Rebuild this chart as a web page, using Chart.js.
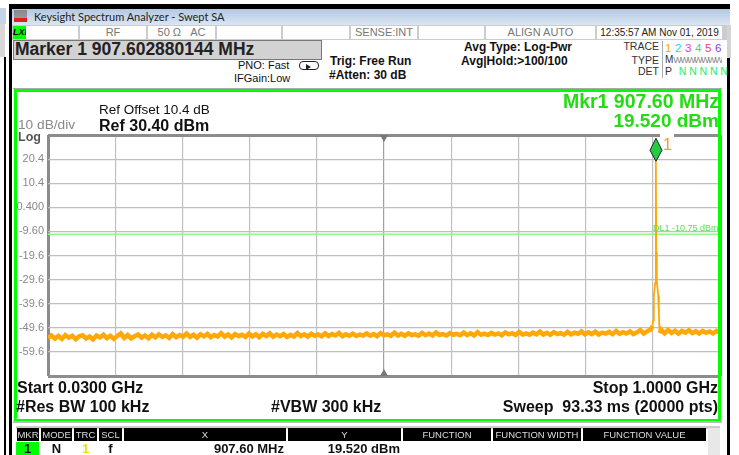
<!DOCTYPE html>
<html>
<head>
<meta charset="utf-8">
<title>Swept SA</title>
<script src="https://cdn.jsdelivr.net/npm/chart.js@4/dist/chart.umd.min.js"></script>
<style>
html, body { margin: 0; padding: 0; background: #fff; overflow: hidden; }
#wrap { position: relative; width: 739px; height: 455px; font-family: "Liberation Sans", Arial, sans-serif; color: #111; }
#wrap canvas { position: absolute; left: 0; top: 0; }
.t { position: absolute; white-space: nowrap; line-height: 1; }
.r { position: absolute; }
.b { font-weight: bold; }
.c { position: absolute; background: #fff; border-right: 2px solid #ccc; height: 13px; top: 26px; color: #777; font-size: 11px; line-height: 13px; text-align: center; }
.h { position: absolute; top: 428px; height: 13px; background: #000; color: #ddd; font-size: 9.5px; line-height: 13px; text-align: center; white-space: nowrap; overflow: hidden; }
.d { position: absolute; top: 442px; height: 13px; font-size: 13px; line-height: 14px; font-weight: bold; text-align: center; }
</style>
</head>
<body>
<div id="wrap">
  <!-- window edges -->
  <div class="r" style="left:0;top:8px;width:6px;height:16px;background:#c4d5e8"></div>
  <div class="r" style="left:0;top:24px;width:5px;height:33px;background:#d8d8d8"></div>
  <div class="r" style="left:4px;top:57px;width:2px;height:398px;background:#000"></div>
  <div class="r" style="left:9px;top:4px;width:3px;height:451px;background:#000"></div>
  <div class="r" style="left:9px;top:4px;width:721px;height:5px;background:#000"></div>
  <div class="r" style="left:12px;top:9px;width:718px;height:16px;background:linear-gradient(#b3c8e2,#dbe6f3)"></div>
  <div class="r" style="left:727px;top:25px;width:4px;height:33px;background:#d4d4d4"></div>
  <div class="r" style="left:727px;top:58px;width:3px;height:397px;background:#000"></div>
  <!-- title bar -->
  <div class="r" style="left:14px;top:10px;width:13px;height:12px;background:linear-gradient(#888 0,#999 66%,#d22 67%,#d22 100%)"></div>
  <div class="t" style="left:34px;top:11px;font-family:'Lato';font-size:11px;color:#222">Keysight Spectrum Analyzer - Swept SA</div>
  <!-- status row -->
  <div class="r" style="left:12px;top:25px;width:715px;height:15px;background:#ccc"></div>
  <div class="c" style="left:13px;width:13px;background:#0f0;color:#000;font-weight:bold;font-size:9px;font-style:italic">LXI</div>
  <div class="c" style="left:26px;width:52px"></div>
  <div class="c" style="left:80px;width:66px">RF</div>
  <div class="c" style="left:148px;width:67px">50 Ω&nbsp;&nbsp;&nbsp;AC</div>
  <div class="c" style="left:217px;width:64px"></div>
  <div class="c" style="left:283px;width:66px"></div>
  <div class="c" style="left:351px;width:66px">SENSE:INT</div>
  <div class="c" style="left:419px;width:65px"></div>
  <div class="c" style="left:486px;width:109px">ALIGN AUTO</div>
  <div class="c" style="left:597px;width:125px;color:#222;font-size:10px;border:0">12:35:57 AM Nov 01, 2019</div>
  <!-- marker box -->
  <div class="r" style="left:13px;top:40px;width:307px;height:18px;background:#d2d2d2;border:1px solid #777"></div>
  <div class="t b" style="left:15px;top:41px;font-size:17.5px;color:#222">Marker 1 907.602880144 MHz</div>
  <!-- settings -->
  <div class="t" style="left:238px;top:60px;font-size:11px">PNO: Fast</div>
  <div class="t" style="left:234px;top:73px;font-size:11px">IFGain:Low</div>
  <div class="r" style="left:299px;top:61px;width:18px;height:7px;border:1px solid #222;border-radius:4px;background:#fff"></div>
  <div class="r" style="left:306px;top:64px;width:0;height:0;border-left:5px solid #222;border-top:3px solid transparent;border-bottom:3px solid transparent"></div>
  <div class="t b" style="left:330px;top:55px;font-size:12px">Trig: Free Run</div>
  <div class="t b" style="left:329px;top:69px;font-size:12px">#Atten: 30 dB</div>
  <div class="t b" style="left:464px;top:41px;font-size:12px">Avg Type: Log-Pwr</div>
  <div class="t b" style="left:461px;top:55px;font-size:12px">Avg|Hold:&gt;100/100</div>
  <!-- trace panel -->
  <div class="t" style="right:80px;top:41px;font-size:10.5px;color:#333">TRACE</div>
  <div class="t" style="right:80px;top:55px;font-size:10.5px;color:#333">TYPE</div>
  <div class="t" style="right:80px;top:66px;font-size:10.5px;color:#333">DET</div>
  <div class="r" style="left:662px;top:41px;width:1px;height:37px;background:#aaa"></div>
  <div class="t" style="left:665px;top:43px;font-size:11.5px;letter-spacing:3.6px"><span style="color:#ffa500">1</span><span style="color:#2ad4ee">2</span><span style="color:#f032e6">3</span><span style="color:#33e07a">4</span><span style="color:#f04078">5</span><span style="color:#7a3ff0">6</span></div>
  <div class="t" style="left:665px;top:55px;width:57px;overflow:hidden;font-size:10px;color:#333">M<span style="color:#888;letter-spacing:-1.6px;font-size:9px">WWWWWWWWWW</span></div>
  <div class="t" style="left:665px;top:66px;font-size:10.5px;letter-spacing:2.8px;color:#22ee66"><span style="color:#333;margin-right:4px">P</span>NNNNN</div>

  <canvas id="saChart" width="739" height="455"></canvas>

  <!-- green frame, sits over the right edge of the plot -->
  <div class="r" style="left:13px;top:88px;width:709px;height:1px;background:#aaa"></div>
  <div class="r" style="left:14px;top:89px;width:701px;height:327px;border:3px solid #0f0"></div>
  <div class="r" style="left:13px;top:421px;width:709px;height:2px;background:#bbb"></div>

  <div class="r" style="left:660px;top:133px;width:14px;height:7px;background:#fff"></div>
  <div class="t" style="left:663px;top:137px;font-size:16px;color:#ff9a1a">1</div>
  <div class="t" style="left:18px;top:118px;font-size:13.7px;color:#888">10 dB/div</div>
  <div class="t b" style="left:18px;top:131px;font-size:12.5px;color:#555">Log</div>
  <div class="t" style="left:99px;top:103px;font-size:13.5px">Ref Offset 10.4 dB</div>
  <div class="t b" style="left:99px;top:118px;font-size:16px">Ref 30.40 dBm</div>
  <div class="t b" style="right:20px;top:92px;font-size:19.5px;color:#22dd11">Mkr1 907.60 MHz</div>
  <div class="t b" style="right:20px;top:111px;font-size:19px;color:#22dd11">19.520 dBm</div>
  <div class="t" style="left:653px;top:224px;font-size:9px;color:#55e055">DL1 -10.75 dBm</div>
  <div class="t b" style="left:17px;top:380px;font-size:16px">Start 0.0300 GHz</div>
  <div class="t b" style="left:16px;top:399px;font-size:16px">#Res BW 100 kHz</div>
  <div class="t b" style="left:271px;top:399px;font-size:16px">#VBW 300 kHz</div>
  <div class="t b" style="right:21px;top:380px;font-size:16px">Stop 1.0000 GHz</div>
  <div class="t b" style="right:21px;top:399px;font-size:16px">Sweep&nbsp;&nbsp;93.33 ms (20000 pts)</div>

  <!-- marker table -->
  <div class="r" style="left:16px;top:426px;width:704px;height:3px;background:#ccc"></div>
  <div class="h" style="left:17px;width:22px">MKR</div>
  <div class="h" style="left:41px;width:31px">MODE</div>
  <div class="h" style="left:74px;width:23px">TRC</div>
  <div class="h" style="left:99px;width:23px">SCL</div>
  <div class="h" style="left:124px;width:162px">X</div>
  <div class="h" style="left:288px;width:113px">Y</div>
  <div class="h" style="left:403px;width:88px">FUNCTION</div>
  <div class="h" style="left:493px;width:88px">FUNCTION WIDTH</div>
  <div class="h" style="left:583px;width:123px">FUNCTION VALUE</div>
  <div class="r" style="left:708px;top:428px;width:12px;height:27px;background:#e8e8e8"></div>
  <div class="d" style="left:16px;width:23px;background:#0f0">1</div>
  <div class="d" style="left:41px;width:31px">N</div>
  <div class="d" style="left:74px;width:23px;color:#f0e000">1</div>
  <div class="d" style="left:99px;width:23px">f</div>
  <div class="d" style="left:124px;width:160px;text-align:right">907.60 MHz</div>
  <div class="d" style="left:288px;width:112px;text-align:right">19.520 dBm</div>
</div>

<script>
// frequency in GHz, level in dBm
const traceFreq = [
  0.030, 0.035, 0.040, 0.045, 0.050, 0.055, 0.060, 0.065, 0.070, 0.075,
  0.080, 0.085, 0.090, 0.095, 0.100, 0.105, 0.110, 0.115, 0.120, 0.125,
  0.130, 0.135, 0.140, 0.145, 0.150, 0.155, 0.160, 0.165, 0.170, 0.175,
  0.180, 0.185, 0.190, 0.195, 0.200, 0.205, 0.210, 0.215, 0.220, 0.225,
  0.230, 0.235, 0.240, 0.245, 0.250, 0.255, 0.260, 0.265, 0.270, 0.275,
  0.280, 0.285, 0.290, 0.295, 0.300, 0.305, 0.310, 0.315, 0.320, 0.325,
  0.330, 0.335, 0.340, 0.345, 0.350, 0.355, 0.360, 0.365, 0.370, 0.375,
  0.380, 0.385, 0.390, 0.395, 0.400, 0.405, 0.410, 0.415, 0.420, 0.425,
  0.430, 0.435, 0.440, 0.445, 0.450, 0.455, 0.460, 0.465, 0.470, 0.475,
  0.480, 0.485, 0.490, 0.495, 0.500, 0.505, 0.510, 0.515, 0.520, 0.525,
  0.530, 0.535, 0.540, 0.545, 0.550, 0.555, 0.560, 0.565, 0.570, 0.575,
  0.580, 0.585, 0.590, 0.595, 0.600, 0.605, 0.610, 0.615, 0.620, 0.625,
  0.630, 0.635, 0.640, 0.645, 0.650, 0.655, 0.660, 0.665, 0.670, 0.675,
  0.680, 0.685, 0.690, 0.695, 0.700, 0.705, 0.710, 0.715, 0.720, 0.725,
  0.730, 0.735, 0.740, 0.745, 0.750, 0.755, 0.760, 0.765, 0.770, 0.775,
  0.780, 0.785, 0.790, 0.795, 0.800, 0.805, 0.810, 0.815, 0.820, 0.825,
  0.830, 0.835, 0.840, 0.845, 0.850, 0.855, 0.860, 0.865, 0.870, 0.875,
  0.880, 0.885, 0.890, 0.895, 0.900, 0.9025, 0.9035, 0.9045, 0.9055, 0.9065,
  0.9072, 0.9076, 0.9080, 0.9088, 0.9098, 0.9108, 0.9118, 0.9125, 0.9132, 0.915,
  0.920, 0.925, 0.930, 0.935, 0.940, 0.945, 0.950, 0.955, 0.960, 0.965,
  0.970, 0.975, 0.980, 0.985, 0.990, 0.995, 1.000
];
const traceLevel = [
  -53.9, -52.8, -54.1, -53.0, -54.2, -52.6, -53.7, -52.9, -54.3, -53.1,
  -52.7, -54.0, -53.2, -54.4, -52.8, -53.6, -52.5, -53.9, -52.9, -54.2,
  -53.0, -51.9, -53.8, -52.6, -54.0, -53.1, -52.4, -53.7, -52.8, -53.9,
  -52.5, -53.6, -52.3, -53.4, -52.7, -53.8, -52.2, -53.5, -52.6, -53.3,
  -52.0, -53.4, -52.5, -53.7, -52.3, -53.1, -52.1, -53.5, -52.6, -53.2,
  -51.8, -53.3, -52.4, -53.6, -52.2, -53.0, -52.5, -53.4, -52.0, -53.2,
  -52.3, -53.5, -52.1, -53.0, -51.9, -53.3, -52.4, -53.1, -52.2, -53.4,
  -52.5, -53.2, -51.8, -53.0, -52.3, -53.3, -52.1, -52.9, -52.4, -53.1,
  -51.9, -53.0, -52.2, -52.8, -51.7, -53.1, -52.3, -52.9, -52.0, -53.0,
  -52.4, -52.8, -51.9, -52.9, -52.2, -53.1, -51.8, -52.7, -52.3, -52.9,
  -51.6, -52.8, -52.1, -52.9, -51.9, -52.6, -52.3, -52.9, -51.7, -52.7,
  -52.0, -52.8, -51.5, -52.6, -52.2, -52.8, -51.8, -52.5, -52.1, -52.7,
  -51.6, -52.6, -51.9, -52.8, -51.4, -52.5, -52.0, -52.6, -51.7, -52.4,
  -51.9, -52.7, -51.5, -52.3, -51.8, -52.6, -51.3, -52.4, -51.9, -52.5,
  -51.6, -52.3, -51.2, -52.4, -51.7, -52.5, -51.4, -52.2, -51.8, -52.4,
  -51.3, -52.3, -51.6, -52.1, -51.1, -52.3, -51.5, -52.2, -51.2, -52.4,
  -51.6, -52.0, -51.3, -52.2, -50.9, -52.1, -51.4, -52.0, -51.1, -52.2,
  -51.5, -50.6, -52.0, -51.0, -50.3, -48.8, -46.5, -36.5, -33.4, -31.0,
  -20.0, 19.52, -18.0, -30.2, -33.0, -36.2, -44.0, -49.8, -51.8, -50.4,
  -51.9, -50.5, -51.7, -50.8, -52.0, -50.9, -51.6, -50.6, -51.8, -51.0,
  -52.0, -50.9, -51.7, -51.1, -51.9, -50.9, -51.8
];
const displayLineFreq = [0.03, 1.0];
const displayLineLevel = [-10.75, -10.75];
const freqTicks = [0.03, 0.127, 0.224, 0.321, 0.418, 0.515, 0.612, 0.709, 0.806, 0.903, 1.0];
const levelTicks = [30.4, 20.4, 10.4, 0.4, -9.6, -19.6, -29.6, -39.6, -49.6, -59.6, -69.6];
const levelLabels = ['', '20.4', '10.4', '0.400', '-9.60', '-19.6', '-29.6', '-39.6', '-49.6', '-59.6', ''];
const markerFreq = 0.9076;
const markerLevel = 19.52;
const centerFreq = 0.515;
const peakStart = 0.9025;
const peakEnd = 0.9132;

// marker diamond and the two center frequency arrows
const saMarks = {
  id: 'saMarks',
  afterDatasetsDraw(chart) {
    const g = chart.ctx;
    const x = chart.scales.x;
    const y = chart.scales.y;
    const mx = x.getPixelForValue(markerFreq);
    const my = y.getPixelForValue(markerLevel);
    g.save();
    g.fillStyle = '#22cc44';
    g.strokeStyle = '#222';
    g.lineWidth = 1;
    g.beginPath();
    g.moveTo(mx, my);
    g.lineTo(mx - 6, my - 11);
    g.lineTo(mx, my - 23);
    g.lineTo(mx + 6, my - 11);
    g.closePath();
    g.fill();
    g.stroke();
    const cx = x.getPixelForValue(centerFreq);
    g.fillStyle = '#777';
    [[y.top, 1], [y.bottom, -1]].forEach(([py, dir]) => {
      g.beginPath();
      g.moveTo(cx - 4, py);
      g.lineTo(cx + 4, py);
      g.lineTo(cx, py + dir * 7);
      g.closePath();
      g.fill();
    });
    g.restore();
  }
};

const saChart = new Chart(document.getElementById('saChart'), {
  type: 'scatter',
  data: {
    datasets: [{
      data: traceFreq.map((f, i) => ({ x: f, y: traceLevel[i] })),
      showLine: true,
      borderColor: '#ffa808',
      borderWidth: 4.5,
      pointRadius: 0,
      tension: 0,
      // the noise floor is a thick band, the carrier is a thin line
      segment: {
        borderWidth: s => (s.p0.parsed.x >= peakStart && s.p1.parsed.x <= peakEnd) ? 1.8 : 4.5
      }
    }, {
      data: displayLineFreq.map((f, i) => ({ x: f, y: displayLineLevel[i] })),
      showLine: true,
      borderColor: '#90f890',
      borderWidth: 1.5,
      pointRadius: 0
    }]
  },
  options: {
    responsive: false,
    animation: false,
    layout: { padding: { left: 0, top: 135, right: 19, bottom: 79 } },
    plugins: { legend: { display: false }, tooltip: { enabled: false } },
    scales: {
      x: {
        type: 'linear',
        min: 0.03,
        max: 1.0,
        afterBuildTicks: s => { s.ticks = freqTicks.map(v => ({ value: v })); },
        ticks: { display: false },
        border: { display: false },
        grid: {
          drawTicks: false,
          color: c => (c.index === 0 || c.index === 10) ? '#8c8c8c' : c.index === 5 ? '#a0a0a0' : '#c0c0c0',
          lineWidth: c => (c.index === 0 || c.index === 10) ? 3 : 1.2
        }
      },
      y: {
        type: 'linear',
        min: -69.6,
        max: 30.4,
        afterBuildTicks: s => { s.ticks = levelTicks.map(v => ({ value: v })); },
        afterFit: s => { s.width = 48; },
        ticks: {
          color: '#888',
          padding: 4,
          font: { family: 'Liberation Sans', size: 11 },
          callback: (v, i) => levelLabels[i]
        },
        border: { display: false },
        grid: {
          drawTicks: false,
          color: c => (c.index === 0 || c.index === 10) ? '#8c8c8c' : '#c0c0c0',
          lineWidth: c => (c.index === 0 || c.index === 10) ? 3 : 1.2
        }
      }
    }
  },
  plugins: [saMarks]
});
</script>
</body>
</html>
